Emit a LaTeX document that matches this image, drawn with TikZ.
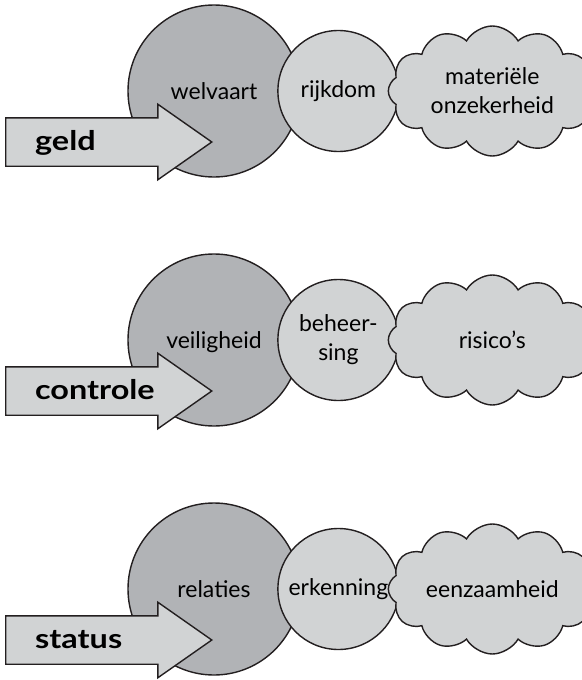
\documentclass[tikz,border=0pt]{standalone}
\usepackage{fontspec}
\setmainfont{Lato}
\newfontfamily\pijlfont{Lato}[FakeStretch=1.2]
\usepackage{tikz}
\usetikzlibrary{shapes.symbols,shapes.arrows,calc,positioning}

\definecolor{donker}{HTML}{B1B3B6}
\definecolor{licht}{HTML}{D1D3D4}
\definecolor{lijn}{HTML}{231F20}

\begin{document}
\begin{tikzpicture}[x=1pt, y=-1pt, line width=1.4pt, font=\fontsize{23}{29}\selectfont,
    groot/.style={circle, draw=lijn, fill=donker, minimum size=172pt, inner sep=0pt, text height=16pt, text depth=0pt},
    klein/.style={circle, draw=lijn, fill=licht, minimum size=121pt, inner sep=0pt, align=center},
    wolk/.style={cloud, draw=lijn, fill=licht, cloud puffs=12, cloud puff arc=120, cloud ignores aspect,
                 minimum width=208pt, minimum height=130pt, inner sep=0pt, align=center},
    pijl/.style={single arrow, draw=lijn, fill=licht, minimum height=206pt, minimum width=74pt,
                 single arrow head extend=13.5pt, single arrow tip angle=70, inner ysep=23.5pt, inner xsep=0pt},
    woord/.style={font=\fontsize{27}{30}\pijlfont\bfseries, anchor=base west}]
    \useasboundingbox (0,0) rectangle (581,680);

    % geld
    \node[groot]                 (welvaart)    at (214,91)                      {welvaart};
    \node[klein]                 (rijkdom)     [right=-23.5pt of welvaart]      {rijkdom};
    \node[wolk]                  (onzeker)     [right=-12pt of rijkdom]         {materiële\\onzekerheid};
    \node[pijl, anchor=tip]      (geldpijl)    at ($(welvaart)+(-1,51)$)        {};
    \node[woord]                 (geld)        at ($(geldpijl.tail)+(26,8)$)    {geld};

    % controle
    \node[groot]                 (veiligheid)  at (214,340)                     {veiligheid};
    \node[klein]                 (beheersing)  [right=-23.5pt of veiligheid]    {beheer-\\sing};
    \node[wolk]                  (risicos)     [right=-12pt of beheersing]      {risico's};
    \node[pijl, anchor=tip]      (controlepijl) at ($(veiligheid)+(-1,51)$)     {};
    \node[woord]                 (controle)    at ($(controlepijl.tail)+(26,8)$) {controle};

    % status
    \node[groot]                 (relaties)    at (214,589)                     {relaties};
    \node[klein]                 (erkenning)   [right=-23.5pt of relaties]      {erkenning};
    \node[wolk]                  (eenzaamheid) [right=-12pt of erkenning]       {eenzaamheid};
    \node[pijl, anchor=tip]      (statuspijl)  at ($(relaties)+(-1,51)$)        {};
    \node[woord]                 (status)      at ($(statuspijl.tail)+(26,8)$)  {status};
\end{tikzpicture}
\end{document}
